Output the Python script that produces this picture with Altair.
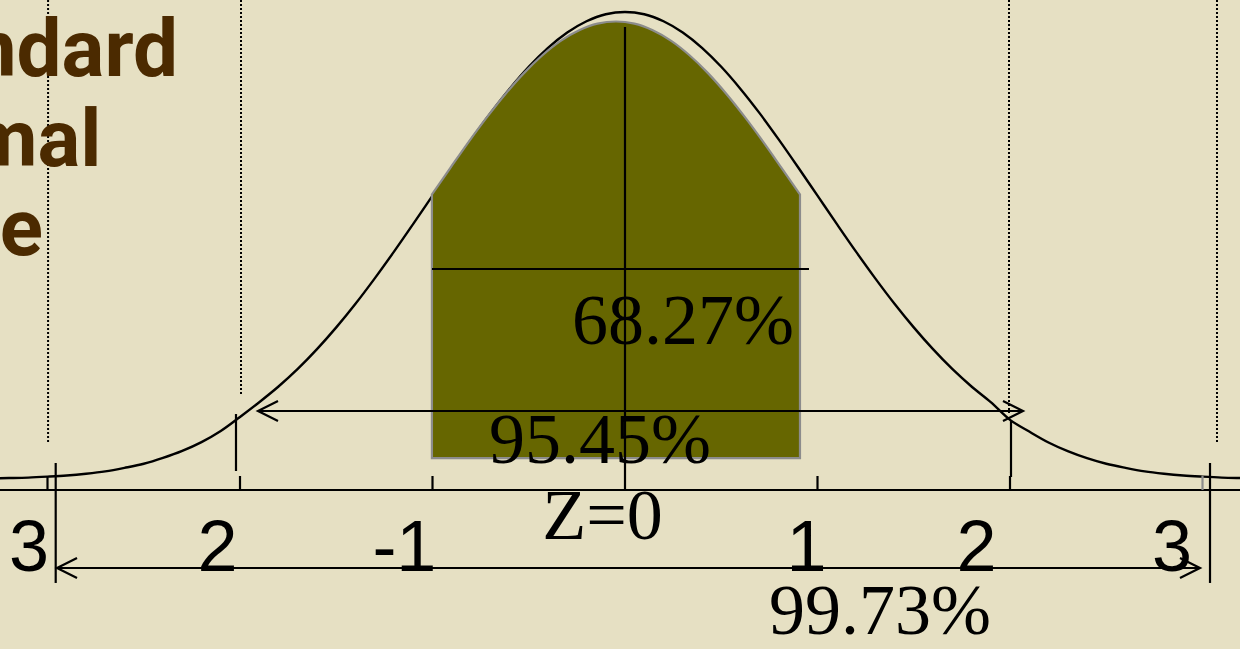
import altair as alt
import pandas as pd

# ---------------------------------------------------------------
# Standard normal curve, density sampled every 0.1 z
# ---------------------------------------------------------------
curve_z = [
    -3.3, -3.2, -3.1, -3.0, -2.9, -2.8, -2.7, -2.6, -2.5, -2.4, -2.3, -2.2,
    -2.1, -2.0, -1.9, -1.8, -1.7, -1.6, -1.5, -1.4, -1.3, -1.2, -1.1, -1.0,
    -0.9, -0.8, -0.7, -0.6, -0.5, -0.4, -0.3, -0.2, -0.1, 0.0,
    0.1, 0.2, 0.3, 0.4, 0.5, 0.6, 0.7, 0.8, 0.9, 1.0, 1.1, 1.2,
    1.3, 1.4, 1.5, 1.6, 1.7, 1.8, 1.9, 2.0, 2.1, 2.2, 2.3, 2.4,
    2.5, 2.6, 2.7, 2.8, 2.9, 3.0, 3.1, 3.2, 3.3,
]
curve_density = [
    0.0005, 0.0008, 0.0012, 0.0020, 0.0030, 0.0045, 0.0065, 0.0095, 0.0130,
    0.0180, 0.0240, 0.0315, 0.0410, 0.0530, 0.0656, 0.0790, 0.0940, 0.1109,
    0.1295, 0.1497, 0.1714, 0.1942, 0.2179, 0.2420, 0.2661, 0.2897, 0.3123,
    0.3332, 0.3521, 0.3683, 0.3814, 0.3910, 0.3970, 0.3989,
    0.3970, 0.3910, 0.3814, 0.3683, 0.3521, 0.3332, 0.3123, 0.2897, 0.2661,
    0.2420, 0.2179, 0.1942, 0.1714, 0.1497, 0.1295, 0.1109, 0.0940, 0.0790,
    0.0656, 0.0505, 0.0405, 0.0312, 0.0238, 0.0178, 0.0130, 0.0095, 0.0065,
    0.0045, 0.0030, 0.0020, 0.0012, 0.0008, 0.0005,
]

# Shaded central band (inset copy of the curve between -1 and +1)
band_z = [
    -1.003, -0.907, -0.812, -0.716, -0.621, -0.525, -0.429, -0.334, -0.238,
    -0.143, -0.047, 0.049, 0.144, 0.240, 0.335, 0.431, 0.527, 0.622, 0.718,
    0.813, 0.909,
]
band_top = [
    0.2431, 0.2658, 0.2880, 0.3093, 0.3289, 0.3467, 0.3620, 0.3743, 0.3833,
    0.3890, 0.3908, 0.3890, 0.3833, 0.3743, 0.3620, 0.3467, 0.3289, 0.3093,
    0.2880, 0.2658, 0.2431,
]
band_floor = 0.0179

# Axis ticks and their labels
tick_z = [-3, -2, -1, 1, 2]
edge_tick_z = [3]
tick_labels = ["3", "2", "-1", "1", "2", "3"]

# Coverage labels
share_labels = ["68.27%", "95.45%", "Z=0", "99.73%"]

# Title lines
title_lines = ["Standard", "Normal", "Curve"]

# ---------------------------------------------------------------
# Layout (z units horizontally, density units vertically)
# ---------------------------------------------------------------
X_DOMAIN = [-3.24675, 3.19481]
Y_DOMAIN = [-0.14521, 0.40916]
AXIS_Y = -0.0094
TICK_TOP = 0.00256

xs = alt.Scale(domain=X_DOMAIN, nice=False, zero=False)
ys = alt.Scale(domain=Y_DOMAIN, nice=False, zero=False)


def X(field="x"):
    return alt.X(f"{field}:Q", scale=xs, axis=None)


def Y(field="y"):
    return alt.Y(f"{field}:Q", scale=ys, axis=None)


# curve
curve_df = pd.DataFrame({"x": curve_z, "y": curve_density})
curve = alt.Chart(curve_df).mark_line(
    color="black", strokeWidth=2.4, interpolate="monotone", clip=True
).encode(x=X(), y=Y())

# shaded band
band_df = pd.DataFrame({"x": band_z, "y": band_top, "y2": band_floor})
band = alt.Chart(band_df).mark_area(
    color="#666600", stroke="#8c8c8c", strokeWidth=2.2, interpolate="monotone",
    opacity=1
).encode(x=X(), y=Y(), y2=alt.Y2("y2:Q"))

# solid segments: axis, ticks, centre line, coverage spans and brackets
segments = [
    (X_DOMAIN[0], X_DOMAIN[1], AXIS_Y, AXIS_Y),          # horizontal axis
    (0.0, 0.0, AXIS_Y, 0.3861),                          # centre line
    (-1.0026, 0.9558, 0.1794, 0.1794),                   # 68.27% span
    (-1.9065, 2.0675, 0.0581, 0.0581),                   # 95.45% span
    (-2.0208, -2.0208, 0.0555, 0.00683),                 # 95.45% left bracket
    (2.0052, 2.0052, 0.0495, 0.0017),                    # 95.45% right bracket
    (-2.9506, 2.987, -0.0760, -0.0760),                  # 99.73% span
    (-2.9574, -2.9574, 0.01367, -0.0888),                # 99.73% left bracket
    (3.039, 3.039, 0.01367, -0.0888),                    # 99.73% right bracket
]
segments += [(z, z, TICK_TOP, AXIS_Y) for z in tick_z]
seg_df = pd.DataFrame(segments, columns=["x", "x2", "y", "y2"])
rules = alt.Chart(seg_df).mark_rule(color="black", strokeWidth=2.2).encode(
    x=X(), x2=alt.X2("x2:Q"), y=Y(), y2=alt.Y2("y2:Q")
)

edge_df = pd.DataFrame({"x": edge_tick_z, "y": TICK_TOP, "y2": AXIS_Y})
edge_ticks = alt.Chart(edge_df).mark_rule(color="#8c8c8c", strokeWidth=2.2).encode(
    x=X(), y=Y(), y2=alt.Y2("y2:Q")
)

# dotted guides
guide_df = pd.DataFrame({
    "x": [-2.997, -1.9948, 1.9948, 3.0753],
    "y": [Y_DOMAIN[1]] * 4,
    "y2": [0.0308, 0.0718, 0.0564, 0.0308],
})
guides = alt.Chart(guide_df).mark_rule(
    color="black", strokeWidth=2, strokeDash=[2, 2]
).encode(x=X(), y=Y(), y2=alt.Y2("y2:Q"))

# open arrowheads at the ends of the coverage spans
LEFT_HEAD = "M2,-1L0,0L2,1"
RIGHT_HEAD = "M-2,-1L0,0L-2,1"
head_df = pd.DataFrame({
    "x": [-1.9065, 2.0675, -2.9506, 2.987],
    "y": [0.0581, 0.0581, -0.0760, -0.0760],
    "shape": [LEFT_HEAD, RIGHT_HEAD, LEFT_HEAD, RIGHT_HEAD],
})
heads = alt.Chart(head_df).mark_point(
    filled=False, stroke="black", strokeWidth=2.2, size=400, opacity=1
).encode(x=X(), y=Y(), shape=alt.Shape("shape:N", scale=None, legend=None))

# coverage labels
share_df = pd.DataFrame({
    "label": share_labels,
    "x": [0.3013, -0.1299, -0.1169, 1.3247],
    "y": [0.11532, 0.01367, -0.05125, -0.1324],
})
shares = alt.Chart(share_df).mark_text(
    font="Liberation Serif", fontSize=72, color="black", align="center",
    baseline="alphabetic"
).encode(x=X(), y=Y(), text="label:N")

# tick labels
label_df = pd.DataFrame({
    "label": tick_labels,
    "x": [-3.0961, -2.1169, -1.1460, 0.9434, 1.8260, 2.8416],
    "y": -0.07816,
})
labels = alt.Chart(label_df).mark_text(
    font="Liberation Sans", fontSize=72, color="black", align="center",
    baseline="alphabetic"
).encode(x=X(), y=Y(), text="label:N")

# title
title_df = pd.DataFrame({
    "label": title_lines,
    "x": [-2.3221, -2.7195, -3.0234],
    "y": [0.34424, 0.26736, 0.19134],
})
title = alt.Chart(title_df).mark_text(
    font="Roboto", fontSize=80, fontWeight="bold", color="#4B2A00",
    align="right", baseline="alphabetic"
).encode(x=X(), y=Y(), text="label:N")

chart = alt.layer(
    guides, curve, band, shares, labels, title, rules, edge_ticks, heads
).properties(
    width=1240, height=649,
    autosize=alt.AutoSizeParams(type="none"),
    padding=0,
    background="#E6E0C3",
).configure_view(strokeWidth=0)

chart.save("out.html", embed_options={"renderer": "svg", "actions": False})
